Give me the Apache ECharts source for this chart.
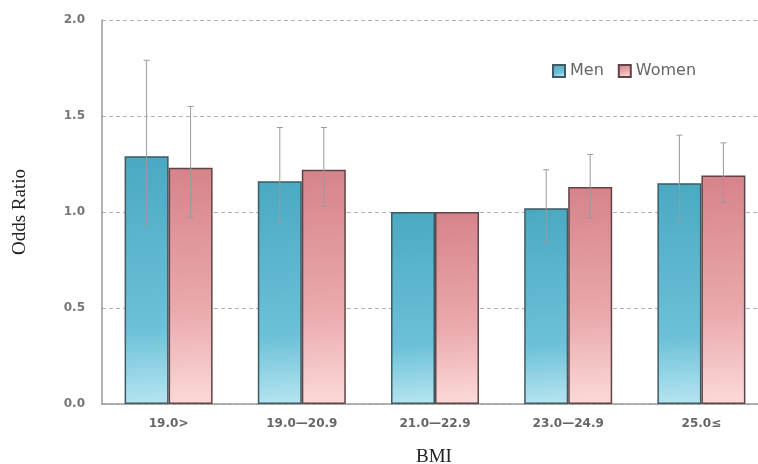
<!DOCTYPE html>
<html><head><meta charset="utf-8">
<script src="https://cdn.jsdelivr.net/npm/echarts@6/dist/echarts.min.js"></script>
<style>html,body{margin:0;padding:0;background:#fff}#c{width:758px;height:464px}</style>
</head><body><div id="c"></div>
<script>
var categories = ['19.0>', '19.0—20.9', '21.0—22.9', '23.0—24.9', '25.0≤'];
var menOR = [1.29, 1.16, 1.00, 1.02, 1.15];
var menLow = [0.93, 0.94, 1.00, 0.84, 0.96];
var menHigh = [1.79, 1.44, 1.00, 1.22, 1.40];
var womenOR = [1.23, 1.22, 1.00, 1.13, 1.19];
var womenLow = [0.97, 1.03, 1.00, 0.97, 1.05];
var womenHigh = [1.55, 1.44, 1.00, 1.30, 1.36];
var yTicks = [0, 0.5, 1.0, 1.5, 2.0];

var BW = 44;
function errData(low, high){ return categories.map(function(c,i){ return [i, low[i], high[i]]; }); }
function errSeries(name, low, high, offset){
  return {
    type: 'custom', name: name + ' CI', z: 10, silent: true,
    data: errData(low, high),
    renderItem: function(params, api){
      var lo = api.coord([api.value(0), api.value(1)]);
      var hi = api.coord([api.value(0), api.value(2)]);
      var x = lo[0] + offset;
      if (Math.abs(hi[1]-lo[1]) < 1) return null;
      var st = {stroke: '#9a9a9a', lineWidth: 1};
      return {type: 'group', children: [
        {type:'line', shape:{x1:x,y1:hi[1],x2:x,y2:lo[1]}, style: st},
        {type:'line', shape:{x1:x-3,y1:hi[1],x2:x+3,y2:hi[1]}, style: st},
        {type:'line', shape:{x1:x-3,y1:lo[1],x2:x+3,y2:lo[1]}, style: st}
      ]};
    }
  };
}
var menGrad = new echarts.graphic.LinearGradient(0,0,0.3,1,[
  {offset:0,color:'#4aa9c2'},{offset:0.7,color:'#6cc1d8'},{offset:1,color:'#b5e4f0'}]);
var womenGrad = new echarts.graphic.LinearGradient(0,0,0.3,1,[
  {offset:0,color:'#d6838a'},{offset:0.6,color:'#eaa9ad'},{offset:1,color:'#fbd9d8'}]);

var chart = echarts.init(document.getElementById('c'), null, {renderer:'canvas'});
chart.setOption({
  animation: false,
  backgroundColor: '#fff',
  grid: {left: 102, width: 666, top: 20, height: 384, outerBoundsMode: 'none', containLabel: false},
  legend: {
    left: 547, top: 58, itemWidth: 12, itemHeight: 12, itemGap: 14,
    data: [{name:'Men', icon:'rect'},{name:'Women', icon:'rect'}],
    textStyle: {fontFamily:'DejaVu Sans', fontSize: 16, color:'#666'}
  },
  xAxis: {
    type: 'category', data: categories,
    name: 'BMI', nameLocation: 'middle', nameGap: 44,
    nameTextStyle: {fontFamily:'Liberation Serif', fontSize: 19, color:'#222', padding:[0,0,0,-2]},
    axisLine: {lineStyle:{color:'#9a9a9a', width:1.5}},
    axisTick: {show:false},
    axisLabel: {margin: 14, fontFamily:'DejaVu Sans', fontWeight:'bold', fontSize: 12, color:'#666'}
  },
  yAxis: {
    type: 'value', min: 0, max: 2, interval: 0.5,
    name: 'Odds Ratio', nameLocation: 'middle', nameGap: 72, nameRotate: 90,
    nameTextStyle: {fontFamily:'Liberation Serif', fontSize: 19, color:'#222'},
    axisLine: {show:true, lineStyle:{color:'#9a9a9a', width:1.5}},
    axisTick: {show:false},
    splitLine: {lineStyle:{color:'#b0b0b0', type:[4,3], width:1}},
    axisLabel: {margin: 17, fontFamily:'DejaVu Sans', fontWeight:'bold', fontSize: 12, color:'#777',
      formatter: function(v){ return v.toFixed(1); }}
  },
  series: [
    {name:'Men', type:'bar', data: menOR, barWidth: BW, barGap: '0%',
     itemStyle:{color: menGrad, borderColor:'#3f5a63', borderWidth:1.5}},
    {name:'Women', type:'bar', data: womenOR, barWidth: BW, barGap: '0%',
     itemStyle:{color: womenGrad, borderColor:'#5e4446', borderWidth:1.5}},
    errSeries('Men', menLow, menHigh, -BW/2),
    errSeries('Women', womenLow, womenHigh, BW/2)
  ]
});
</script></body></html>
